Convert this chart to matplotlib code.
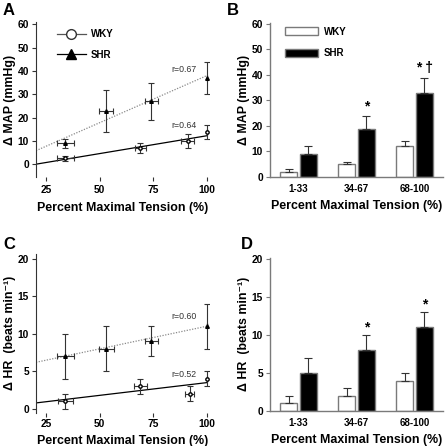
import numpy as np
import matplotlib
matplotlib.use("Agg")
import matplotlib.pyplot as plt
from matplotlib.lines import Line2D
from matplotlib.patches import Patch

plt.rcParams['font.family'] = ['Liberation Sans', 'DejaVu Sans']
plt.rcParams['font.weight'] = 'bold'

# ---- data ----
# A: delta MAP vs percent maximal tension
wky_a_x = [34, 69, 91, 100]
wky_a_xerr = [4, 2.5, 3, 0]
wky_a_y = [2.5, 7, 10, 14]
wky_a_yerr = [1, 2, 3, 3]
shr_a_x = [34, 53, 74, 100]
shr_a_xerr = [4, 3.3, 3, 0]
shr_a_y = [9, 23, 27, 37]
shr_a_yerr = [2, 9, 8, 7]
fit_x = [20.3, 100]
wky_a_fit = [0, 12.2]
shr_a_fit = [5.8, 38]

# C: delta HR vs percent maximal tension
wky_c_x = [34, 69, 92, 100]
wky_c_xerr = [3.5, 3, 2, 0]
wky_c_y = [1, 3, 2, 4]
wky_c_yerr = [1, 1, 1, 1]
shr_c_x = [34, 53, 74, 100]
shr_c_xerr = [4, 3.5, 3, 0]
shr_c_y = [7, 8, 9, 11]
shr_c_yerr = [3, 3, 2, 3]
wky_c_fit = [0.8, 3.5]
shr_c_fit = [6.2, 11]

# B and D: grouped bars
groups = ["1-33", "34-67", "68-100"]
wky_map = [2, 5, 12]
wky_map_err = [1, 1, 2]
shr_map = [9, 19, 33]
shr_map_err = [3, 5, 6]
wky_hr = [1, 2, 4]
wky_hr_err = [1, 1, 1]
shr_hr = [5, 8, 11]
shr_hr_err = [2, 2, 2]
map_marks = ["", "*", "* \u2020"]
hr_marks = ["", "*", "*"]

W, H = 445, 446
fig = plt.figure(figsize=(W / 100, H / 100), dpi=100)

def px_axes(x0, y0, x1, y1):
    return fig.add_axes([x0 / W, (H - y1) / H, (x1 - x0) / W, (y1 - y0) / H])

tick_fs = 7.4
label_fs = 8.9
gray = '#7a7a7a'

def scatter_panel(ax, wx, wxe, wy, wye, sx, sxe, sy, sye, wfit, sfit, ylim, yticks, ylabel,
                  rw, rs, rw_y, rs_y, xpad, lpad):
    ax.plot(fit_x, sfit, ls=(0, (1, 1.2)), color='#8a8a8a', lw=0.9, zorder=1)
    ax.plot(fit_x, wfit, ls='-', color='black', lw=0.9, zorder=1)
    ax.errorbar(sx, sy, yerr=sye, xerr=sxe, fmt='^', ms=2.6, color='black', mfc='black',
                ecolor='#333333', elinewidth=0.8, capsize=2, capthick=0.8, zorder=3)
    ax.errorbar(wx, wy, yerr=wye, xerr=wxe, fmt='o', ms=2.4, color='black', mfc='white',
                ecolor='#333333', elinewidth=0.8, capsize=2, capthick=0.8, zorder=3)
    ax.text(95, rs_y, rs, fontsize=6.3, fontweight='normal', color='#333333', ha='right', va='center')
    ax.text(95, rw_y, rw, fontsize=6.3, fontweight='normal', color='#333333', ha='right', va='center')
    ax.set_xlim(20.3, 101)
    ax.set_ylim(*ylim)
    ax.set_xticks([25, 50, 75, 100])
    ax.set_yticks(yticks)
    for s in ['top', 'right', 'bottom']:
        ax.spines[s].set_visible(False)
    ax.spines['left'].set_color('#333333')
    ax.spines['left'].set_linewidth(0.8)
    ax.tick_params(axis='both', direction='out', length=3, width=0.8, labelsize=tick_fs, colors='#333333',
                   labelcolor='black', pad=2)
    ax.tick_params(axis='x', pad=xpad)
    ax.set_xlabel("Percent Maximal Tension (%)", fontsize=label_fs, fontweight='bold', labelpad=lpad)
    ax.set_ylabel(ylabel, fontsize=label_fs, fontweight='bold', labelpad=1)

def bar_panel(ax, wv, we, sv, se, marks, mark_off, ylim, yticks, ylabel):
    x = np.arange(len(groups))
    bw = 0.3
    off = 0.17
    ax.bar(x - off, wv, width=bw, color='white', edgecolor=gray, lw=1.0,
           yerr=[np.zeros(len(we)), we], error_kw=dict(ecolor='#333333', elinewidth=0.8, capsize=3, capthick=0.8))
    ax.bar(x + off, sv, width=bw, color='black', edgecolor=gray, lw=1.0,
           yerr=[np.zeros(len(se)), se], error_kw=dict(ecolor='#333333', elinewidth=0.8, capsize=3, capthick=0.8))
    for i, m in enumerate(marks):
        if m:
            ax.text(x[i] + off, sv[i] + se[i] + mark_off, m, fontsize=10, fontweight='bold',
                    ha='center', va='bottom')
    ax.set_xlim(-0.49, 2.49)
    ax.set_ylim(*ylim)
    ax.set_xticks(x)
    ax.set_xticklabels(groups)
    ax.set_yticks(yticks)
    for s in ['top', 'right']:
        ax.spines[s].set_visible(False)
    for s in ['left', 'bottom']:
        ax.spines[s].set_color(gray)
        ax.spines[s].set_linewidth(1.0)
    ax.tick_params(axis='y', direction='out', length=3, width=0.8, labelsize=tick_fs, colors=gray,
                   labelcolor='black', pad=2)
    ax.tick_params(axis='x', length=0, labelsize=7, pad=5)
    ax.set_xlabel("Percent Maximal Tension (%)", fontsize=label_fs, fontweight='bold', labelpad=4)
    ax.set_ylabel(ylabel, fontsize=label_fs, fontweight='bold', labelpad=1)

axA = px_axes(36, 22, 209, 177)
scatter_panel(axA, wky_a_x, wky_a_xerr, wky_a_y, wky_a_yerr, shr_a_x, shr_a_xerr, shr_a_y, shr_a_yerr,
              wky_a_fit, shr_a_fit, (-5.5, 61), range(0, 61, 10), "\u0394 MAP (mmHg)",
              "r=0.64", "r=0.67", 16.5, 40.5, 3, 5)
hw = Line2D([], [], color='#555555', lw=0.9, marker='o', ms=7, mfc='white', mec='#333333')
hs = Line2D([], [], color='black', lw=0.9, marker='^', ms=7, mfc='black', mec='black')
axA.legend([hw, hs], ["WKY", "SHR"], loc='upper left', bbox_to_anchor=(0.12, 0.955), frameon=False,
           fontsize=7, handlelength=3.0, handletextpad=0.5, labelspacing=1.1, borderpad=0, borderaxespad=0)

axB = px_axes(270, 22.7, 443, 177)
bar_panel(axB, wky_map, wky_map_err, shr_map, shr_map_err, map_marks, 0.8, (0, 60.5),
          range(0, 61, 10), "\u0394 MAP (mmHg)")
pw = Patch(facecolor='white', edgecolor=gray, lw=1.0)
ps = Patch(facecolor='black', edgecolor=gray, lw=1.0)
axB.legend([pw, ps], ["WKY", "SHR"], loc='upper left', bbox_to_anchor=(0.085, 0.975), frameon=False,
           fontsize=7, handlelength=3.4, handleheight=0.85, handletextpad=0.6, labelspacing=1.2,
           borderpad=0, borderaxespad=0)

axC = px_axes(36, 254, 209, 412.7)
scatter_panel(axC, wky_c_x, wky_c_xerr, wky_c_y, wky_c_yerr, shr_c_x, shr_c_xerr, shr_c_y, shr_c_yerr,
              wky_c_fit, shr_c_fit, (-0.5, 20.6), range(0, 21, 5), "\u0394 HR  (beats min\u207b\u00b9)",
              "r=0.52", "r=0.60", 4.6, 12.3, 1.5, 4)

axD = px_axes(270, 257.5, 443, 411)
bar_panel(axD, wky_hr, wky_hr_err, shr_hr, shr_hr_err, hr_marks, 0.1, (0, 20.2),
          range(0, 21, 5), "\u0394 HR  (beats min\u207b\u00b9)")

for lab, xp, yp in [("A", 3, 3), ("B", 227, 3), ("C", 3, 237), ("D", 241, 237)]:
    fig.text(xp / W, 1 - yp / H, lab, fontsize=12, fontweight='bold', ha='left', va='top')

fig.savefig("out.png", dpi=100)
